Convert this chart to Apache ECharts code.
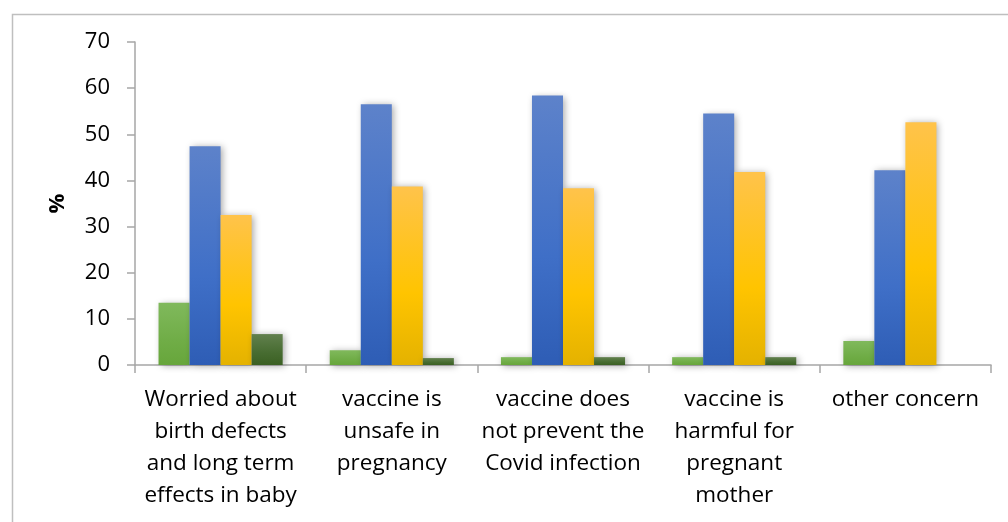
<!DOCTYPE html>
<html>
<head>
<meta charset="utf-8">
<script src="https://cdn.jsdelivr.net/npm/echarts@6/dist/echarts.min.js"></script>
<style>
html,body{margin:0;padding:0;background:#fff;}
#c{width:1008px;height:522px;}
</style>
</head>
<body>
<div id="c"></div>
<script>
const categories = [
  "Worried about\nbirth defects\nand long term\neffects in baby",
  "vaccine is\nunsafe in\npregnancy",
  "vaccine does\nnot prevent the\nCovid infection",
  "vaccine is\nharmful for\npregnant\nmother",
  "other concern"
];
const series1 = [13.5, 3.2, 1.7, 1.7, 5.2];
const series2 = [47.4, 56.5, 58.4, 54.5, 42.2];
const series3 = [32.5, 38.7, 38.3, 41.8, 52.6];
const series4 = [6.7, 1.5, 1.7, 1.7, 0];
const yTicks = [0, 10, 20, 30, 40, 50, 60, 70];

function grad(top, mid, bottom) {
  return new echarts.graphic.LinearGradient(0, 0, 0, 1, [
    {offset: 0, color: top}, {offset: 0.6, color: mid}, {offset: 1, color: bottom}
  ]);
}
const shadow = {shadowBlur: 7, shadowColor: 'rgba(0,0,0,0.35)', shadowOffsetX: 2, shadowOffsetY: 1};
const fills = [
  grad('#80b95c', '#70ad47', '#67a63b'),
  grad('#5d82ca', '#3f6fc7', '#2e5db5'),
  grad('#ffc34b', '#ffc400', '#e4b200'),
  grad('#62804e', '#476c31', '#3b6023')
];
const datas = [series1, series2, series3, series4];
const FONT = 'Open Sans';

const chart = echarts.init(document.getElementById('c'), null, {renderer: 'canvas'});
chart.setOption({
  animation: false,
  backgroundColor: '#fff',
  graphic: [{
    type: 'rect', left: 10, top: 12, z: 100,
    shape: {x: 0, y: 0, width: 1100, height: 600},
    style: {fill: 'none', stroke: '#bfbfbf', lineWidth: 1.5}
  }],
  grid: {left: 135, right: 17, top: 42, bottom: 157, containLabel: false},
  xAxis: {
    type: 'category',
    data: categories,
    axisLine: {lineStyle: {color: '#a6a6a6', width: 1.5}},
    axisTick: {show: true, length: 8, lineStyle: {color: '#a6a6a6', width: 1.5}},
    axisLabel: {
      interval: 0, margin: 19, color: '#000',
      fontFamily: FONT, fontSize: 22.5, lineHeight: 32, align: 'center'
    }
  },
  yAxis: {
    type: 'value', min: 0, max: 70, interval: 10,
    name: '%', nameLocation: 'middle', nameGap: 66, nameRotate: 90,
    nameTextStyle: {fontFamily: FONT, fontWeight: 'bold', fontSize: 22, color: '#000'},
    axisLine: {show: true, lineStyle: {color: '#a6a6a6', width: 1.5}},
    axisTick: {show: true, length: 8, lineStyle: {color: '#a6a6a6', width: 1.5}},
    splitLine: {show: false},
    axisLabel: {
      margin: 25, color: '#000', fontFamily: FONT, fontSize: 22,
      formatter: v => yTicks.includes(v) ? String(v) : ''
    }
  },
  series: datas.map((d, i) => ({
    type: 'bar',
    data: d,
    barGap: '0%',
    barCategoryGap: '27.5%',
    itemStyle: Object.assign({color: fills[i]}, shadow)
  }))
});
</script>
</body>
</html>
